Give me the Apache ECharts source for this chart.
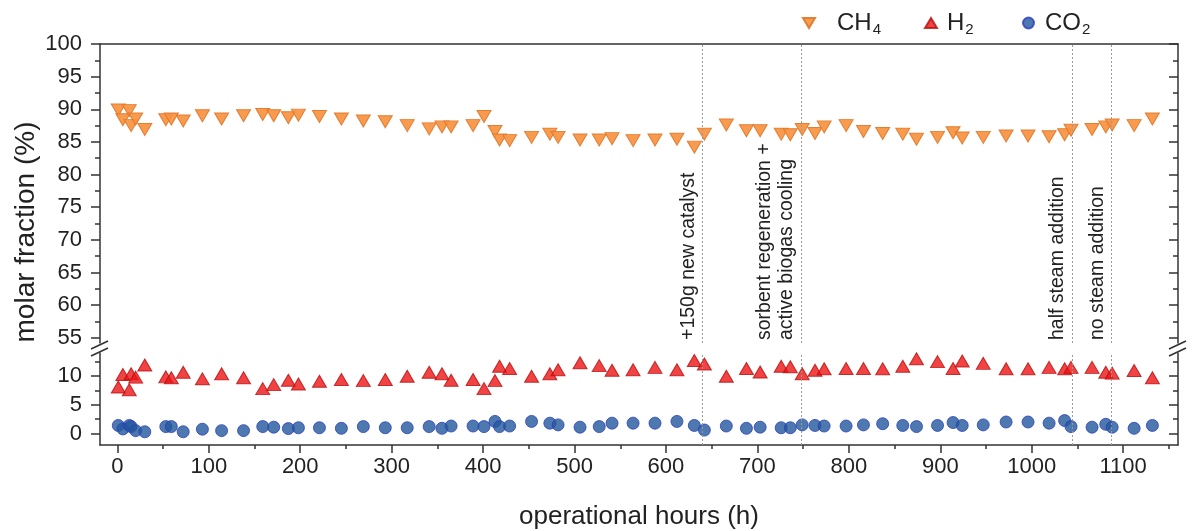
<!DOCTYPE html>
<html><head><meta charset="utf-8">
<script src="https://cdn.jsdelivr.net/npm/echarts@6/dist/echarts.min.js"></script>
<style>html,body{margin:0;padding:0;background:#fff}#c{width:1197px;height:531px}</style>
</head><body><div id="c"></div>
<script>
const hours = [1,6,13,15,20,30,53,59,72,93,
  114,138,159,171,187,198,221,245,269,293,
  317,341,355,365,389,401,413,418,429,453,
  473,482,506,527,541,564,588,612,631,642,
  666,688,703,726,736,749,763,773,797,816,
  837,859,874,897,914,924,947,972,996,1019,
  1036,1043,1066,1081,1088,1112,1132];
const ch4 = [89.9,88.4,89.8,87.5,88.5,86.9,88.4,88.5,88.2,89.0,
  88.5,89.0,89.2,89.0,88.7,89.1,88.9,88.5,88.2,88.1,
  87.5,87.0,87.3,87.3,87.5,88.9,86.6,85.3,85.2,85.7,
  86.2,85.7,85.3,85.3,85.5,85.2,85.3,85.4,84.2,86.2,
  87.6,86.7,86.7,86.2,86.1,86.9,86.3,87.3,87.5,86.6,
  86.3,86.2,85.4,85.7,86.4,85.6,85.7,85.9,85.9,85.8,
  86.1,86.8,86.9,87.3,87.6,87.5,88.5];
const h2 = [8.1,10.25,7.6,10.4,9.8,11.9,9.85,9.7,10.65,9.5,
  10.4,9.7,7.8,8.5,9.25,8.6,9.1,9.4,9.2,9.4,
  9.95,10.65,10.4,9.25,9.4,7.8,9.2,11.7,11.3,9.95,
  10.4,11.1,12.3,11.8,11.0,11.1,11.5,11.1,12.7,12.1,
  9.95,11.3,10.7,11.7,11.6,10.4,11.0,11.25,11.3,11.3,
  11.25,11.7,13.0,12.5,11.3,12.6,12.2,11.25,11.25,11.5,
  11.25,11.5,11.5,10.65,10.5,10.95,9.7];
const co2 = [1.4,0.8,1.4,1.2,0.5,0.3,
  1.2,1.2,0.3,0.75,0.5,0.5,1.2,1.1,0.85,1.0,1.0,0.9,1.2,1.0,1.0,
  1.2,0.9,1.3,1.3,1.2,2.1,1.2,1.3,2.1,1.8,1.5,1.1,1.2,1.8,1.8,1.8,2.1,1.4,0.6,
  1.3,0.9,1.1,1.0,1.0,1.5,1.4,1.3,1.3,1.5,1.7,1.4,1.2,1.4,1.9,1.4,1.5,2.0,2.0,1.8,2.25,1.2,1.1,1.6,1.1,0.9,1.4];
const xTicks = [0,100,200,300,400,500,600,700,800,900,1000,1100];
const xMinor = [50,150,250,350,450,550,650,750,850,950,1050,1150];
const upperTicks = [55,60,65,70,75,80,85,90,95,100];
const upperMinor = [57.5,62.5,67.5,72.5,77.5,82.5,87.5,92.5,97.5];
const lowerTicks = [0,5,10];
const lowerMinor = [2.5,7.5,12.5];
const eventHours = [640,747.5,1044,1087.5];
const eventLabels = ['+150g new catalyst','sorbent regeneration +\nactive biogas cooling','half steam addition','no steam addition'];
const seriesNames = ['CH4','H2','CO2'];

const FONT = '"Liberation Sans", Arial, sans-serif';
const AX = '#333';
const X_MIN = -19, X_MAX = 1160;
const UP_MIN = 54.2, UP_MAX = 100, LO_MIN = -2, LO_MAX = 14;

function yAx(grid, pos, min, max, ticks, len, inside, labels, line) {
  return {
    type: 'value', gridIndex: grid, position: pos, min: min, max: max,
    axisLine: {show: line, onZero: false, lineStyle: {color: AX, width: 1.5}},
    axisTick: {show: true, inside: inside, customValues: ticks, length: len, lineStyle: {color: AX, width: 1.5}},
    axisLabel: labels ? {show: true, customValues: ticks, fontSize: 22, color: '#222', fontFamily: FONT, margin: 18, formatter: v => String(v)} : {show: false},
    splitLine: {show: false}
  };
}
function xAx(grid, pos, ticks, len, labels, line) {
  return {
    type: 'value', gridIndex: grid, position: pos, min: X_MIN, max: X_MAX,
    axisLine: {show: line, onZero: false, lineStyle: {color: AX, width: 1.5}},
    axisTick: ticks ? {show: true, customValues: ticks, length: len, lineStyle: {color: AX, width: 1.5}} : {show: false},
    axisLabel: labels ? {show: true, customValues: ticks, fontSize: 22, color: '#222', fontFamily: FONT, margin: 11, formatter: v => String(v)} : {show: false},
    splitLine: {show: false}
  };
}

const xAxes = [
  xAx(0, 'top', null, 0, false, true),
  Object.assign(xAx(1, 'bottom', xTicks, 8, true, true), {
    name: 'operational hours (h)', nameLocation: 'middle', nameGap: 59,
    nameTextStyle: {fontSize: 26, color: '#222', fontFamily: FONT}
  }),
  xAx(1, 'bottom', xMinor, 4, false, false)
];
const yAxes = [
  yAx(0, 'left', UP_MIN, UP_MAX, upperTicks, 9, false, true, true),
  yAx(0, 'left', UP_MIN, UP_MAX, upperMinor, 5, false, false, false),
  yAx(0, 'right', UP_MIN, UP_MAX, upperTicks, 9, true, false, true),
  yAx(0, 'right', UP_MIN, UP_MAX, upperMinor, 5, true, false, false),
  yAx(1, 'left', LO_MIN, LO_MAX, lowerTicks, 9, false, true, true),
  yAx(1, 'left', LO_MIN, LO_MAX, lowerMinor, 5, false, false, false),
  yAx(1, 'right', LO_MIN, LO_MAX, lowerTicks, 9, true, false, true),
  yAx(1, 'right', LO_MIN, LO_MAX, lowerMinor, 5, true, false, false)
];

const markStyle = {color: '#9a9a9a', type: [2, 2], width: 1};
const mkLine = (withLabels) => ({
  silent: true, symbol: 'none', animation: false,
  lineStyle: markStyle,
  data: eventHours.map((h, i) => ({
    xAxis: h,
    label: withLabels ? {
      show: true, position: 'insideStartTop', formatter: eventLabels[i],
      fontSize: 19.5, lineHeight: 22, color: '#222', fontFamily: FONT, distance: 3
    } : {show: false}
  }))
});

function legendFmt(name) {
  const m = name.match(/^([A-Z]+)(\d)$/);
  return '{' + name + '|' + m[1] + '}{s|' + m[2] + '}';
}
const legendRich = {
  CH4: {fontSize: 24, color: '#222', fontFamily: FONT, padding: [0, 0, 0, 17]},
  H2: {fontSize: 24, color: '#222', fontFamily: FONT, padding: [0, 0, 0, 5]},
  CO2: {fontSize: 24, color: '#222', fontFamily: FONT, padding: [0, 0, 0, 6]},
  s: {fontSize: 15, color: '#222', fontFamily: FONT, padding: [14, 0, 0, 1]}
};
const legendIcons = {CH4: 'path://M0,0 L12,0 L6,10 Z', H2: 'path://M6,0 L12,10 L0,10 Z', CO2: 'circle'};
function leg(name, left, size) {
  return {
    data: [{name: name, icon: legendIcons[name]}], left: left, top: 6,
    itemWidth: size, itemHeight: size, itemGap: 0,
    selectedMode: false, formatter: legendFmt,
    textStyle: {rich: legendRich}
  };
}

const chart = echarts.init(document.getElementById('c'), null, {renderer: 'canvas'});
const brk = (x) => [
  {type: 'line', shape: {x1: x - 9, y1: 349, x2: x + 8, y2: 341}, style: {stroke: AX, lineWidth: 1.5}, z: 100},
  {type: 'line', shape: {x1: x - 9, y1: 356, x2: x + 8, y2: 348}, style: {stroke: AX, lineWidth: 1.5}, z: 100}
];
chart.setOption({
  animation: false,
  backgroundColor: '#fff',
  grid: [
    {left: 100, right: 19, top: 44, height: 299},
    {left: 100, right: 19, top: 353, height: 92}
  ],
  legend: [leg('CH4', 797, 12), leg('H2', 919, 12), leg('CO2', 1017, 11)],
  xAxis: xAxes,
  yAxis: yAxes,
  graphic: [
    {type: 'text', x: 26, y: 232, rotation: Math.PI / 2,
     style: {text: 'molar fraction (%)', fontSize: 28, fontFamily: FONT, fill: '#222', align: 'center', verticalAlign: 'middle'}},
    ...brk(100), ...brk(1178)
  ],
  series: [
    {name: seriesNames[0], type: 'scatter', xAxisIndex: 0, yAxisIndex: 0,
     symbol: 'triangle', symbolRotate: 180, symbolSize: [14, 12],
     itemStyle: {color: '#F99340', borderColor: '#E0782A', borderWidth: 1, opacity: 0.92},
     data: hours.map((h, i) => [h, ch4[i]]), markLine: mkLine(true), z: 3},
    {name: seriesNames[1], type: 'scatter', xAxisIndex: 1, yAxisIndex: 4,
     symbol: 'triangle', symbolSize: [14, 12],
     itemStyle: {color: '#EE1414', borderColor: '#B50E0E', borderWidth: 1},
     data: hours.map((h, i) => [h, h2[i]]), markLine: mkLine(false), z: 3},
    {name: seriesNames[2], type: 'scatter', xAxisIndex: 1, yAxisIndex: 4,
     symbol: 'circle', symbolSize: 12,
     itemStyle: {color: '#22579A', borderColor: '#2A3FC0', borderWidth: 1},
     data: hours.map((h, i) => [h, co2[i]]), z: 3}
  ]
});
</script>
</body></html>
